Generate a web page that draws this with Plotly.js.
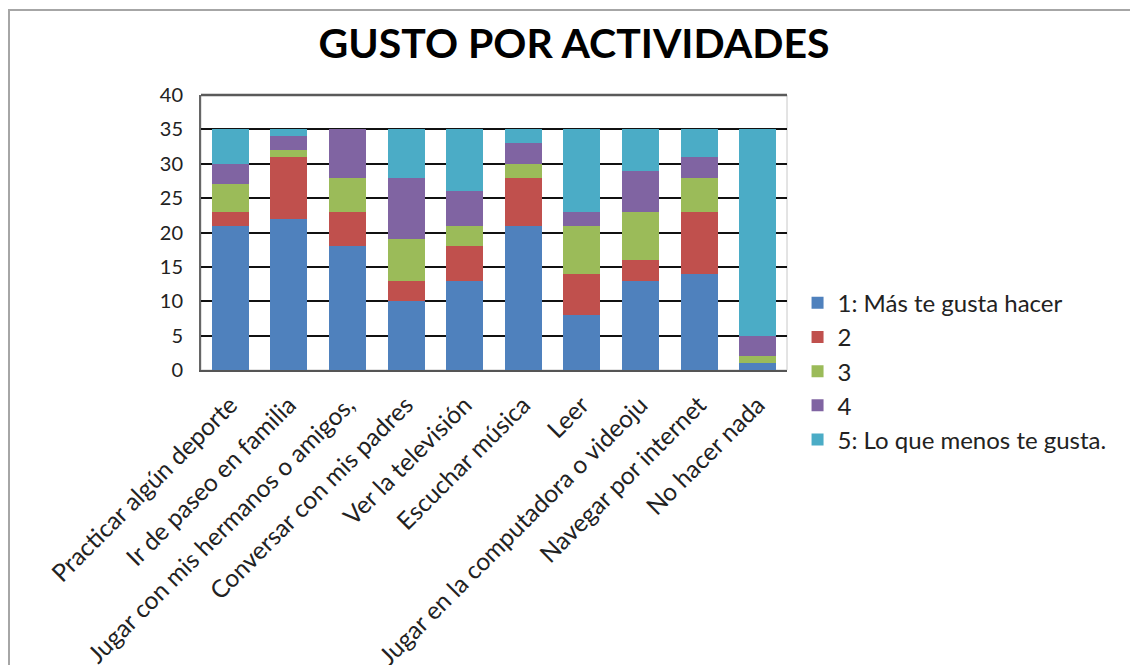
<!DOCTYPE html>
<html>
<head>
<meta charset="utf-8">
<script src="https://cdn.plot.ly/plotly-3.0.1.min.js"></script>
<style>
  body { margin: 0; background: #fff; }
  #wrap { position: relative; width: 1130px; height: 665px; overflow: hidden; }
  #chart { position: absolute; left: 0; top: 0; width: 1130px; height: 665px; }
  #frame { position: absolute; left: 8px; top: 9px; width: 1200px; height: 700px;
           border-left: 2px solid #a6a6a6; border-top: 2px solid #a6a6a6; pointer-events: none; }
</style>
</head>
<body>
<div id="wrap">
  <div id="chart"></div>
  <div id="frame"></div>
</div>
<script>
const activities = [
  "Practicar algún deporte",
  "Ir de paseo en familia",
  "Jugar con mis hermanos o amigos,",
  "Conversar con mis padres",
  "Ver la televisión",
  "Escuchar música",
  "Leer",
  "Jugar en la computadora o videoju",
  "Navegar por internet",
  "No hacer nada",
];

const seriesNames = ["1: Más te gusta hacer", "2", "3", "4", "5: Lo que menos te gusta."];
const seriesColors = ["#4f81bd", "#c0504d", "#9bbb59", "#8064a2", "#4bacc6"];

const rank1 = [21, 22, 18, 10, 13, 21, 8, 13, 14, 1];
const rank2 = [2, 9, 5, 3, 5, 7, 6, 3, 9, 0];
const rank3 = [4, 1, 5, 6, 3, 2, 7, 7, 5, 1];
const rank4 = [3, 2, 7, 9, 5, 3, 2, 6, 3, 3];
const rank5 = [5, 1, 0, 7, 9, 2, 12, 6, 4, 30];

const yTicks = [0, 5, 10, 15, 20, 25, 30, 35, 40];

const font = "Lato, 'Open Sans', sans-serif";

const traces = [rank1, rank2, rank3, rank4, rank5].map((vals, i) => ({
  type: "bar",
  name: seriesNames[i],
  legendgroup: "g" + i,
  x: activities,
  y: vals,
  marker: { color: seriesColors[i], line: { width: 0 } },
  hovertemplate: "%{x}<br>" + seriesNames[i] + ": %{y}<extra></extra>",
}));

const layout = {
  width: 1130,
  height: 665,
  margin: { l: 201, r: 343, t: 95, b: 295 },
  paper_bgcolor: "rgba(0,0,0,0)",
  plot_bgcolor: "#ffffff",
  barmode: "stack",
  bargap: 0.37,
  font: { family: font, color: "#222", size: 18 },
  title: {
    text: "<b>GUSTO POR ACTIVIDADES</b>",
    font: { family: font, size: 41, color: "#000" },
    x: 0.508, xanchor: "center",
    y: 0.935, yanchor: "middle",
  },
  xaxis: {
    tickangle: -45,
    ticks: "",
    showgrid: false,
    showline: true,
    linecolor: "#555",
    linewidth: 2,
    ticklabelstandoff: 9,
    tickfont: { family: font, size: 24.5, color: "#222" },
  },
  yaxis: {
    range: [0, 40],
    tickvals: yTicks,
    ticks: "",
    showline: true,
    linecolor: "#666",
    linewidth: 2,
    gridcolor: "#111",
    gridwidth: 1.5,
    zeroline: false,
    ticklabelstandoff: 12,
    tickfont: { family: font, size: 20, color: "#222" },
  },
  shapes: [{
    type: "rect", xref: "paper", yref: "paper", x0: 0, x1: 1, y0: 0, y1: 1,
    line: { color: "#c8c8c8", width: 1 }, layer: "below",
  }, {
    type: "line", xref: "paper", yref: "paper", x0: 0, x1: 1, y0: 1, y1: 1,
    line: { color: "#5a5a5a", width: 2.5 },
  }],
  legend: {
    x: 1.018, xanchor: "left",
    y: 0.325, yanchor: "top",
    traceorder: "grouped",
    tracegroupgap: 0,
    font: { family: font, size: 24, color: "#222" },
    bgcolor: "rgba(0,0,0,0)",
  },
  showlegend: true,
};

Plotly.newPlot("chart", traces, layout, { displayModeBar: false, responsive: false });
</script>
</body>
</html>
